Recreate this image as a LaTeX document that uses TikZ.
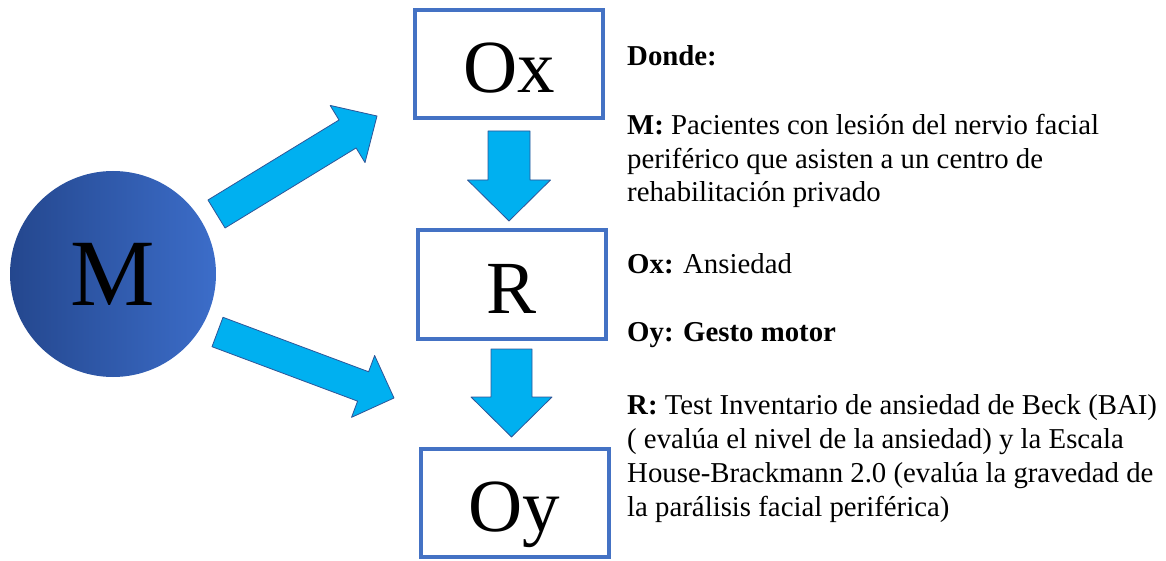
\documentclass[tikz,border=0pt]{standalone}
\usepackage{fontspec}
\setmainfont{Liberation Serif}
\usetikzlibrary{calc}

\definecolor{boxblue}{HTML}{4472C4}
\definecolor{arrowfill}{HTML}{00B0F0}
\definecolor{arrowline}{HTML}{2F5597}
\definecolor{ballleft}{HTML}{24478E}
\definecolor{ballright}{HTML}{3C6DC9}

\tikzset{
  varbox/.style={draw=boxblue, line width=4pt, minimum width=188pt, minimum height=108pt,
    inner sep=0pt, text height=57pt, text depth=0pt, font=\fontsize{75}{80}\selectfont},
  blockarrow/.style={fill=arrowfill, draw=arrowline, line width=0.8pt, line join=round},
  deftext/.style={anchor=base west, align=left, inner sep=0pt, font=\fontsize{28.8}{33.7}\selectfont}
}

% block arrow: from, to, half shaft width, half head width, head length
\newcommand{\blockarrow}[5]{%
  \coordinate (ba-neck) at ($(#2)!#5!(#1)$);
  \draw[blockarrow] ($(#1)!#3!90:(#2)$) -- ($(ba-neck)!#3!90:(#2)$)
    -- ($(ba-neck)!#4!90:(#2)$) -- (#2) -- ($(ba-neck)!#4!-90:(#2)$)
    -- ($(ba-neck)!#3!-90:(#2)$) -- ($(#1)!#3!-90:(#2)$) -- cycle;}

\begin{document}
\begin{tikzpicture}[x=1pt, y=-1pt]
    % Page frame
    \useasboundingbox (0,0) rectangle (1166,561);

    % The sample circle
    \node[circle, minimum size=206pt, inner sep=0pt, left color=ballleft, right color=ballright,
      font=\fontsize{95}{100}\selectfont] (M) at (113,274) {M};

    % The three boxes
    \node[varbox] (Ox) at (509,64) {Ox};
    \node[varbox] (R) at (511.5,284.5) {R};
    \node[varbox] (Oy) at (514.5,503) {Oy};

    % Arrows from the sample
    \coordinate (m-up) at (216.5,214);
    \coordinate (ox-in) at (377,116);
    \coordinate (m-down) at (217.5,332);
    \coordinate (oy-in) at (394,398);
    \blockarrow{m-up}{ox-in}{16.4pt}{33.5pt}{34.5pt}
    \blockarrow{m-down}{oy-in}{15.7pt}{33pt}{33pt}

    % Arrows down the column
    \coordinate (ox-out) at ([yshift=-11pt]Ox.south);
    \coordinate (r-in) at ([yshift=7.5pt]Ox.south |- R.north);
    \coordinate (r-out) at ([yshift=-8.5pt]R.south);
    \coordinate (oy-top) at ([yshift=10pt]R.south |- Oy.north);
    \blockarrow{ox-out}{r-in}{21pt}{41.5pt}{41pt}
    \blockarrow{r-out}{oy-top}{20.5pt}{40.5pt}{40pt}

    % Legend (multi-line nodes sit on their last baseline)
    \node[deftext] (donde) at (627,66) {\textbf{Donde:}};
    \node[deftext] (defM) at (627,202) {\textbf{M:} Pacientes con lesión del nervio facial\\
      periférico que asisten a un centro de\\rehabilitación privado};
    \node[deftext] (defOx) at (627,273) {\textbf{Ox:} Ansiedad};
    \node[deftext] (defOy) at (627,341) {\textbf{Oy: Gesto motor}};
    \node[deftext] (defR) at (627,516) {\textbf{R:} Test Inventario de ansiedad de Beck (BAI)\\
      ( evalúa el nivel de la ansiedad) y la Escala\\House-Brackmann 2.0 (evalúa la gravedad de\\
      la parálisis facial periférica)};
\end{tikzpicture}
\end{document}
